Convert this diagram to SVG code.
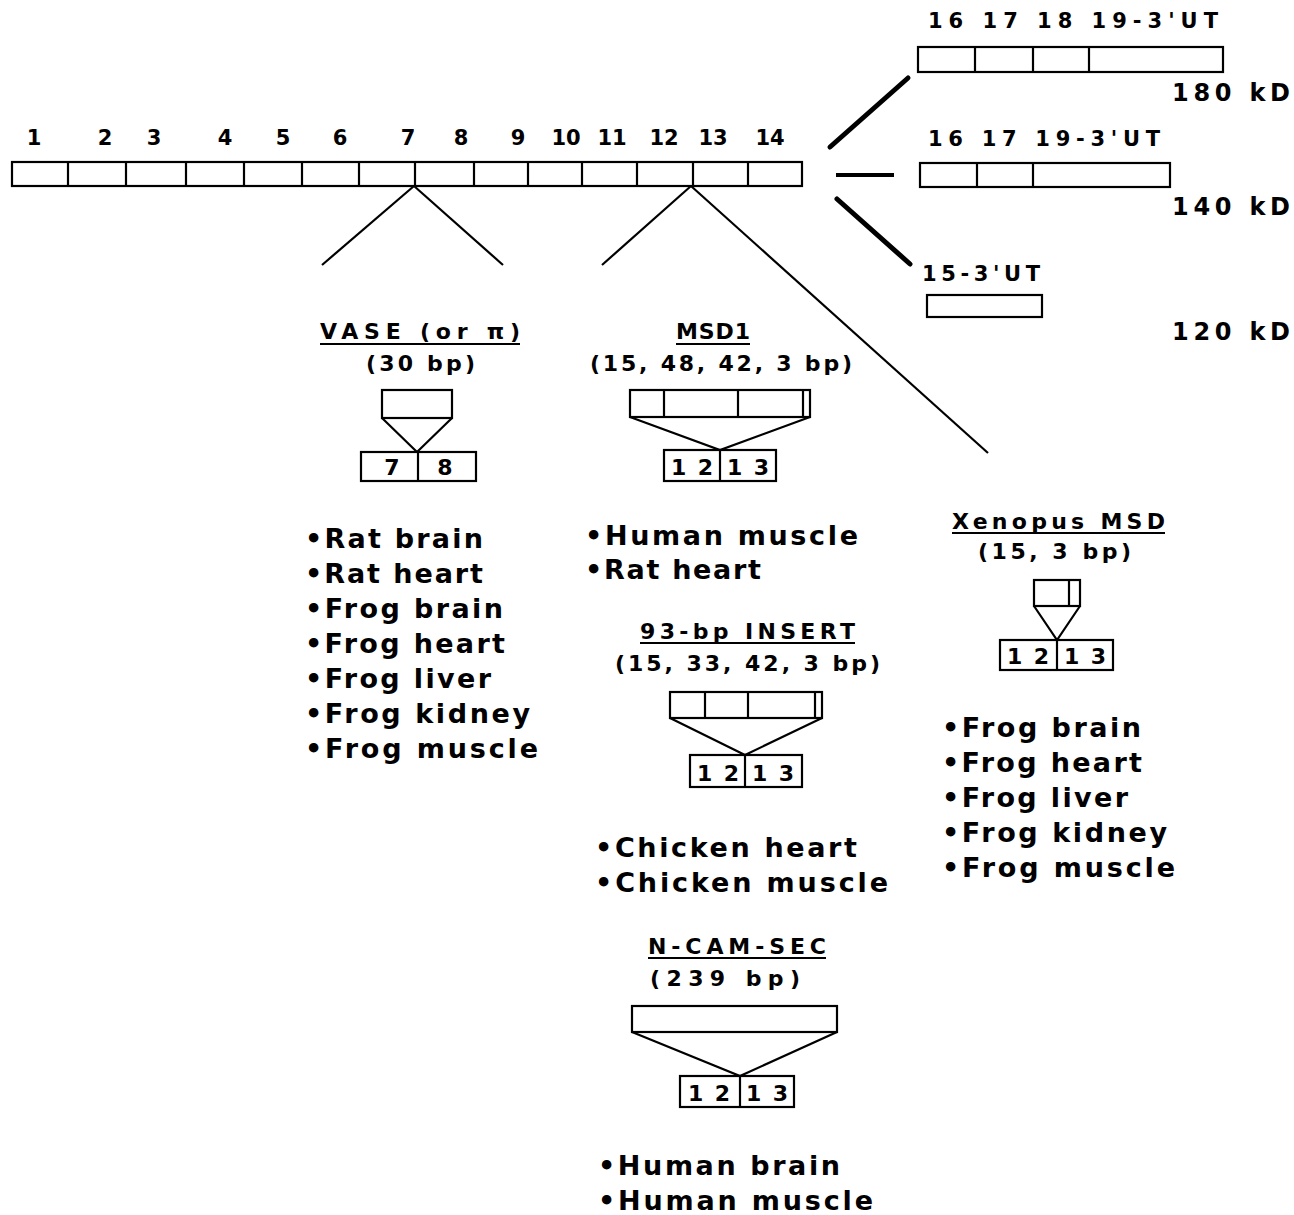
<svg xmlns="http://www.w3.org/2000/svg" width="1294" height="1215" viewBox="0 0 1294 1215">
<style>
text{font-family:"DejaVu Sans","Liberation Sans",Arial,sans-serif;font-weight:bold;fill:#000}
.n{font-size:21px;text-anchor:middle}
.k{font-size:24px}
.h{font-size:22px}
.r{font-size:21px}
.t{font-size:27px}
.b{font-size:22px}
.box{fill:#fff;stroke:#000;stroke-width:2.2}
line,.ln{stroke:#000;stroke-width:2.2;fill:none}
.thick{stroke-width:5;stroke-linecap:round}
</style>
<rect width="1294" height="1215" fill="#fff"/>

<g id="main-gene">
<rect class="box" x="12" y="162" width="790" height="24"/>
<g class="ln">
<line x1="68" y1="162" x2="68" y2="186"/><line x1="126" y1="162" x2="126" y2="186"/><line x1="186" y1="162" x2="186" y2="186"/><line x1="244" y1="162" x2="244" y2="186"/><line x1="302" y1="162" x2="302" y2="186"/><line x1="359" y1="162" x2="359" y2="186"/><line x1="415" y1="162" x2="415" y2="186"/><line x1="474" y1="162" x2="474" y2="186"/><line x1="528" y1="162" x2="528" y2="186"/><line x1="582" y1="162" x2="582" y2="186"/><line x1="637" y1="162" x2="637" y2="186"/><line x1="693" y1="162" x2="693" y2="186"/><line x1="748" y1="162" x2="748" y2="186"/>
</g>
<text class="n" x="34" y="145">1</text><text class="n" x="105" y="145">2</text><text class="n" x="154" y="145">3</text><text class="n" x="225" y="145">4</text><text class="n" x="283" y="145">5</text><text class="n" x="340" y="145">6</text><text class="n" x="408" y="145">7</text><text class="n" x="461" y="145">8</text><text class="n" x="518" y="145">9</text><text class="n" x="566" y="145">10</text><text class="n" x="612" y="145">11</text><text class="n" x="664" y="145">12</text><text class="n" x="713" y="145">13</text><text class="n" x="770" y="145">14</text>
</g>

<g id="iso-180">
<text class="r" x="928" y="28" textLength="290" lengthAdjust="spacing">16  17  18  19-3'UT</text>
<rect class="box" x="918" y="47" width="305" height="25"/>
<line x1="975" y1="47" x2="975" y2="72"/><line x1="1033" y1="47" x2="1033" y2="72"/><line x1="1089" y1="47" x2="1089" y2="72"/>
<text class="k" x="1172" y="101" textLength="118" lengthAdjust="spacing">180  kD</text>
</g>
<g id="iso-140">
<text class="r" x="928" y="146" textLength="232" lengthAdjust="spacing">16  17  19-3'UT</text>
<rect class="box" x="920" y="163" width="250" height="24"/>
<line x1="977" y1="163" x2="977" y2="187"/><line x1="1033" y1="163" x2="1033" y2="187"/>
<text class="k" x="1172" y="215" textLength="118" lengthAdjust="spacing">140  kD</text>
</g>
<g id="iso-120">
<text class="r" x="922" y="281" textLength="118" lengthAdjust="spacing">15-3'UT</text>
<rect class="box" x="927" y="295" width="115" height="22"/>
<text class="k" x="1172" y="340" textLength="118" lengthAdjust="spacing">120  kD</text>
</g>

<g id="connectors">
<line class="thick" x1="830" y1="147" x2="908" y2="78"/>
<line x1="836" y1="175" x2="894" y2="175" style="stroke-width:4"/>
<line class="thick" x1="837" y1="199" x2="910" y2="264"/>
<line x1="414" y1="186" x2="322" y2="265"/>
<line x1="414" y1="186" x2="503" y2="265"/>
<line x1="691" y1="186" x2="602" y2="265"/>
<line x1="691" y1="186" x2="988" y2="453"/>
</g>

<g id="vase">
<text class="h" x="320" y="339" textLength="200" lengthAdjust="spacing">VASE  (or  π)</text>
<line x1="320" y1="344" x2="520" y2="344"/>
<text class="h" x="366" y="371" textLength="109" lengthAdjust="spacing">(30  bp)</text>
<rect class="box" x="382" y="390" width="70" height="28"/>
<polyline class="ln" points="382,418 417,452 452,418"/>
<rect class="box" x="361" y="452" width="115" height="29"/>
<line x1="418" y1="452" x2="418" y2="481"/>
<text class="b" x="392" y="475" text-anchor="middle">7</text><text class="b" x="445" y="475" text-anchor="middle">8</text>
<text class="t" x="305" y="548" textLength="178" lengthAdjust="spacing">•Rat  brain</text>
<text class="t" x="305" y="583" textLength="178" lengthAdjust="spacing">•Rat  heart</text>
<text class="t" x="305" y="618" textLength="198" lengthAdjust="spacing">•Frog  brain</text>
<text class="t" x="305" y="653" textLength="200" lengthAdjust="spacing">•Frog  heart</text>
<text class="t" x="305" y="688" textLength="186" lengthAdjust="spacing">•Frog  liver</text>
<text class="t" x="305" y="723" textLength="225" lengthAdjust="spacing">•Frog  kidney</text>
<text class="t" x="305" y="758" textLength="233" lengthAdjust="spacing">•Frog  muscle</text>
</g>

<g id="msd1">
<text class="h" x="676" y="339" textLength="74" lengthAdjust="spacing">MSD1</text>
<line x1="676" y1="344" x2="750" y2="344"/>
<text class="h" x="590" y="371" textLength="262" lengthAdjust="spacing">(15,  48,  42,  3  bp)</text>
<rect class="box" x="630" y="390" width="180" height="27"/>
<line x1="664" y1="390" x2="664" y2="417"/><line x1="738" y1="390" x2="738" y2="417"/><line x1="803" y1="390" x2="803" y2="417"/>
<polyline class="ln" points="630,417 720,450 810,417"/>
<rect class="box" x="664" y="450" width="112" height="31"/>
<line x1="720" y1="450" x2="720" y2="481"/>
<text class="b" x="671" y="475" textLength="42" lengthAdjust="spacing">12</text><text class="b" x="727" y="475" textLength="42" lengthAdjust="spacing">13</text>
<text class="t" x="585" y="545" textLength="273" lengthAdjust="spacing">•Human  muscle</text>
<text class="t" x="585" y="579" textLength="176" lengthAdjust="spacing">•Rat  heart</text>
</g>

<g id="insert93">
<text class="h" x="640" y="639" textLength="215" lengthAdjust="spacing">93-bp  INSERT</text>
<line x1="640" y1="643" x2="855" y2="643"/>
<text class="h" x="615" y="671" textLength="265" lengthAdjust="spacing">(15,  33,  42,  3  bp)</text>
<rect class="box" x="670" y="692" width="152" height="26"/>
<line x1="705" y1="692" x2="705" y2="718"/><line x1="748" y1="692" x2="748" y2="718"/><line x1="815" y1="692" x2="815" y2="718"/>
<polyline class="ln" points="670,718 745,755 822,718"/>
<rect class="box" x="690" y="755" width="112" height="32"/>
<line x1="745" y1="755" x2="745" y2="787"/>
<text class="b" x="697" y="781" textLength="42" lengthAdjust="spacing">12</text><text class="b" x="752" y="781" textLength="42" lengthAdjust="spacing">13</text>
<text class="t" x="595" y="857" textLength="262" lengthAdjust="spacing">•Chicken  heart</text>
<text class="t" x="595" y="892" textLength="293" lengthAdjust="spacing">•Chicken  muscle</text>
</g>

<g id="ncamsec">
<text class="h" x="648" y="954" textLength="178" lengthAdjust="spacing">N-CAM-SEC</text>
<line x1="648" y1="958" x2="826" y2="958"/>
<text class="h" x="650" y="986" textLength="150" lengthAdjust="spacing">(239  bp)</text>
<rect class="box" x="632" y="1006" width="205" height="26"/>
<polyline class="ln" points="632,1032 740,1076 837,1032"/>
<rect class="box" x="680" y="1076" width="114" height="31"/>
<line x1="740" y1="1076" x2="740" y2="1107"/>
<text class="b" x="688" y="1101" textLength="42" lengthAdjust="spacing">12</text><text class="b" x="746" y="1101" textLength="42" lengthAdjust="spacing">13</text>
<text class="t" x="598" y="1175" textLength="242" lengthAdjust="spacing">•Human  brain</text>
<text class="t" x="598" y="1210" textLength="275" lengthAdjust="spacing">•Human  muscle</text>
</g>

<g id="xenopus">
<text class="h" x="952" y="529" textLength="213" lengthAdjust="spacing">Xenopus  MSD</text>
<line x1="952" y1="533" x2="1165" y2="533"/>
<text class="h" x="978" y="559" textLength="153" lengthAdjust="spacing">(15,  3  bp)</text>
<rect class="box" x="1034" y="580" width="46" height="26"/>
<line x1="1069" y1="580" x2="1069" y2="606"/>
<polyline class="ln" points="1034,606 1057,640 1080,606"/>
<rect class="box" x="1000" y="640" width="113" height="30"/>
<line x1="1057" y1="640" x2="1057" y2="670"/>
<text class="b" x="1007" y="664" textLength="42" lengthAdjust="spacing">12</text><text class="b" x="1064" y="664" textLength="42" lengthAdjust="spacing">13</text>
<text class="t" x="942" y="737" textLength="199" lengthAdjust="spacing">•Frog  brain</text>
<text class="t" x="942" y="772" textLength="200" lengthAdjust="spacing">•Frog  heart</text>
<text class="t" x="942" y="807" textLength="186" lengthAdjust="spacing">•Frog  liver</text>
<text class="t" x="942" y="842" textLength="225" lengthAdjust="spacing">•Frog  kidney</text>
<text class="t" x="942" y="877" textLength="233" lengthAdjust="spacing">•Frog  muscle</text>
</g>
</svg>
